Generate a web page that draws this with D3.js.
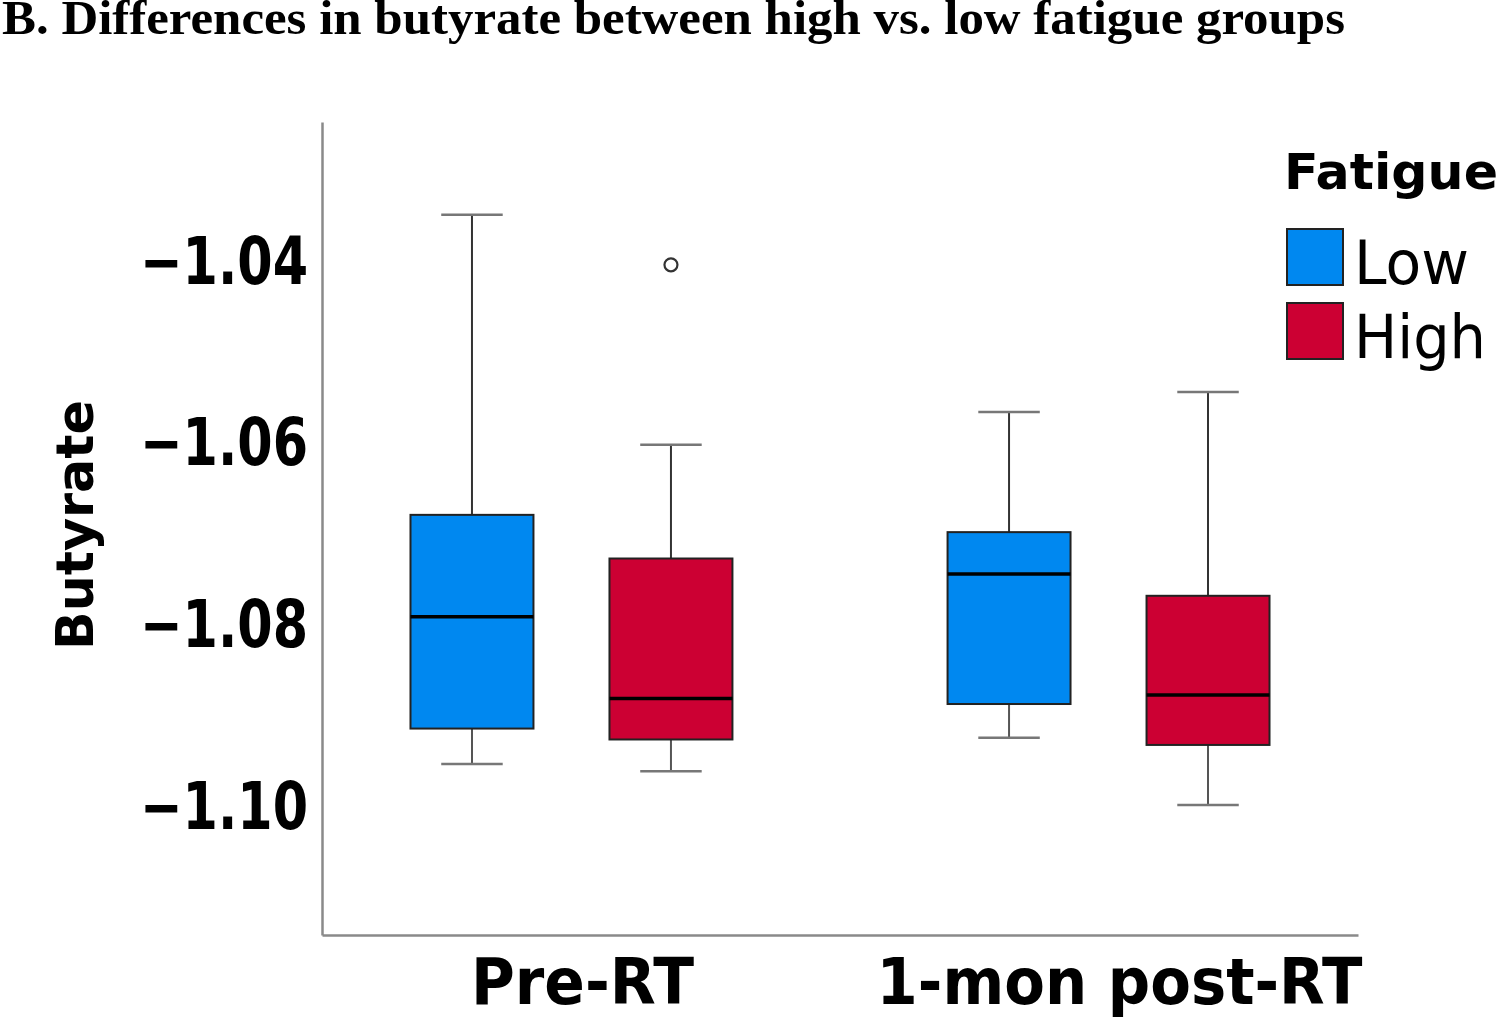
<!DOCTYPE html>
<html>
<head>
<meta charset="utf-8">
<script src="https://cdn.jsdelivr.net/npm/d3@7"></script>
<style>
html,body{margin:0;padding:0;background:#fff;}
svg{display:block;}
</style>
</head>
<body>
<svg id="chart" width="1500" height="1018"></svg>
<script>
// ---- data ----
const categories = ["Pre-RT", "1-mon post-RT"];
const groups = ["Low", "High"];
const groupColors = ["#0088F0", "#CC0033"];
// [whiskerLow, Q1, median, Q3, whiskerHigh]
const lowStats  = [[-1.0952, -1.0913, -1.0790, -1.0678, -1.0348],
                   [-1.0923, -1.0886, -1.0743, -1.0697, -1.0565]];
const highStats = [[-1.0960, -1.0925, -1.0880, -1.0726, -1.0601],
                   [-1.0997, -1.0931, -1.0876, -1.0767, -1.0543]];
const outliers = [{cat: "Pre-RT", group: "High", value: -1.0403}];
const yTicks = [-1.10, -1.08, -1.06, -1.04];
const yDomain = [-1.1140, -1.0246];
const title = "B. Differences in butyrate between high vs. low fatigue groups";
const yLabel = "Butyrate";
const legendTitle = "Fatigue";

(function () {
const svg = d3.select("#chart");
const mLeft = 322, mRight = 1358, mTop = 122, mBottom = 935;

const y = d3.scaleLinear().domain(yDomain).range([mBottom, mTop]);
const x0 = d3.scaleBand().domain(categories).range([mLeft, mRight]).paddingInner(0.259).paddingOuter(0.094);
const x1 = d3.scaleBand().domain(groups).range([0, x0.bandwidth()]).paddingInner(0.382).paddingOuter(0.191);
const color = d3.scaleOrdinal().domain(groups).range(groupColors);

// title
svg.append("text")
  .attr("x", 2).attr("y", 34)
  .attr("font-family", "'Liberation Serif','Times New Roman',serif")
  .attr("font-weight", "bold").attr("font-size", 48)
  .attr("textLength", 1343).attr("lengthAdjust", "spacingAndGlyphs")
  .text(title);

// axes
const yAxis = svg.append("g").attr("transform", `translate(${mLeft},0)`)
  .call(d3.axisLeft(y).tickValues(yTicks).tickSize(0).tickSizeOuter(0).tickPadding(14).tickFormat(d3.format(".2f")));
yAxis.select(".domain").attr("stroke", "#8a8a8a").attr("stroke-width", 2.5);
yAxis.selectAll("text")
  .attr("dy", null).attr("y", 21)
  .attr("font-family", "'DejaVu Sans',sans-serif").attr("font-weight", "bold").attr("font-size", 65)
  .attr("fill", "#000")
  .attr("textLength", 168).attr("lengthAdjust", "spacingAndGlyphs");

const xAxis = svg.append("g").attr("transform", `translate(0,${mBottom})`)
  .call(d3.axisBottom(x0).tickSize(0).tickSizeOuter(0));
xAxis.select(".domain").attr("stroke", "#8a8a8a").attr("stroke-width", 2.5);
xAxis.selectAll("text")
  .attr("dy", null).attr("y", 69).attr("dx", 11)
  .attr("font-family", "'DejaVu Sans',sans-serif").attr("font-weight", "bold").attr("font-size", 64)
  .attr("fill", "#000")
  .attr("textLength", d => d === categories[0] ? 223 : 486).attr("lengthAdjust", "spacingAndGlyphs");

// y label
svg.append("text")
  .attr("transform", `translate(93,525) rotate(-90)`)
  .attr("text-anchor", "middle")
  .attr("font-family", "'DejaVu Sans',sans-serif").attr("font-weight", "bold").attr("font-size", 52)
  .attr("textLength", 250).attr("lengthAdjust", "spacingAndGlyphs")
  .text(yLabel);

// boxes
const boxData = [];
categories.forEach((c, i) => {
  boxData.push({cat: c, group: "Low", s: lowStats[i]});
  boxData.push({cat: c, group: "High", s: highStats[i]});
});

const bw = x1.bandwidth();
const boxes = svg.append("g").selectAll("g").data(boxData).join("g")
  .attr("transform", d => `translate(${x0(d.cat) + x1(d.group)},0)`);

boxes.append("line").attr("x1", bw / 2).attr("x2", bw / 2)
  .attr("y1", d => y(d.s[4])).attr("y2", d => y(d.s[3]))
  .attr("stroke", "#333").attr("stroke-width", 2);
boxes.append("line").attr("x1", bw / 2).attr("x2", bw / 2)
  .attr("y1", d => y(d.s[1])).attr("y2", d => y(d.s[0]))
  .attr("stroke", "#555").attr("stroke-width", 2);
boxes.append("line").attr("x1", bw / 4).attr("x2", bw * 3 / 4)
  .attr("y1", d => y(d.s[4])).attr("y2", d => y(d.s[4]))
  .attr("stroke", "#777").attr("stroke-width", 2.5);
boxes.append("line").attr("x1", bw / 4).attr("x2", bw * 3 / 4)
  .attr("y1", d => y(d.s[0])).attr("y2", d => y(d.s[0]))
  .attr("stroke", "#777").attr("stroke-width", 2.5);
boxes.append("rect").attr("x", 0).attr("width", bw)
  .attr("y", d => y(d.s[3])).attr("height", d => y(d.s[1]) - y(d.s[3]))
  .attr("fill", d => color(d.group)).attr("stroke", "#222").attr("stroke-width", 2);
boxes.append("line").attr("x1", 0).attr("x2", bw)
  .attr("y1", d => y(d.s[2])).attr("y2", d => y(d.s[2]))
  .attr("stroke", "#000").attr("stroke-width", 3.5);

svg.append("g").selectAll("circle").data(outliers).join("circle")
  .attr("cx", d => x0(d.cat) + x1(d.group) + bw / 2)
  .attr("cy", d => y(d.value))
  .attr("r", 6.5).attr("fill", "#fff").attr("stroke", "#333").attr("stroke-width", 2.2);

// legend
svg.append("text").attr("x", 1284).attr("y", 189)
  .attr("font-family", "'DejaVu Sans',sans-serif").attr("font-weight", "bold").attr("font-size", 50)
  .attr("textLength", 214).attr("lengthAdjust", "spacingAndGlyphs")
  .text(legendTitle);
const lg = svg.append("g").selectAll("g").data(groups).join("g")
  .attr("transform", (d, i) => `translate(1287,${229 + i * 74})`);
lg.append("rect").attr("x", 0).attr("y", 0).attr("width", 56).attr("height", 56)
  .attr("fill", d => color(d)).attr("stroke", "#222").attr("stroke-width", 2);
lg.append("text").attr("x", 67).attr("y", 55)
  .attr("font-family", "'DejaVu Sans',sans-serif").attr("font-size", 61)
  .attr("textLength", d => d === "Low" ? 115 : 132).attr("lengthAdjust", "spacingAndGlyphs")
  .text(d => d);
})();
</script>
</body>
</html>
